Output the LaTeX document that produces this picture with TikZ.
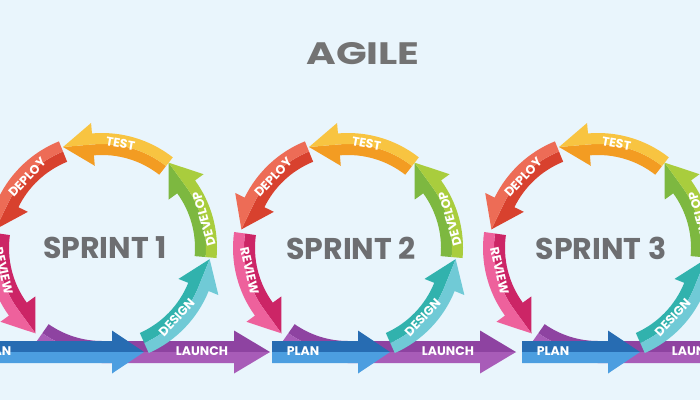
\documentclass[tikz,border=0pt]{standalone}
\usepackage{fontspec}
\setmainfont{Poppins}[BoldFont={Poppins Bold}]
\usetikzlibrary{calc}
\definecolor{bg}{HTML}{E9F5FC}
\definecolor{titlegray}{HTML}{737373}
\definecolor{sprintgray}{HTML}{6D6E71}
\definecolor{testL}{HTML}{F8C441}
\definecolor{testD}{HTML}{F39C22}
\definecolor{deployL}{HTML}{ED6C56}
\definecolor{deployD}{HTML}{D8412E}
\definecolor{reviewL}{HTML}{EE619C}
\definecolor{reviewD}{HTML}{CC2566}
\definecolor{developL}{HTML}{A9CD3D}
\definecolor{developD}{HTML}{7DB840}
\definecolor{designL}{HTML}{70CAD6}
\definecolor{designD}{HTML}{31B2AD}
\definecolor{planL}{HTML}{4C9EE0}
\definecolor{planD}{HTML}{276CB2}
\definecolor{launchL}{HTML}{A85CB8}
\definecolor{launchD}{HTML}{8E43A1}
% #1 tail angle, #2 head base angle, #3 light colour, #4 dark colour
\newcommand\ringarrow[4]{%
  \fill[#4] (#1:93) arc[start angle=#1, end angle=#2, radius=93] -- (#2:82.5)
    -- ({104*cos(#2)-30*sin(#2)},{104*sin(#2)+30*cos(#2)}) -- (#2:104)
    arc[start angle=#2, end angle=#1, radius=104] -- cycle;
  \fill[#3] (#1:104) arc[start angle=#1, end angle=#2, radius=104]
    -- ({104*cos(#2)-30*sin(#2)},{104*sin(#2)+30*cos(#2)}) -- (#2:125.5) -- (#2:115)
    arc[start angle=#2, end angle=#1, radius=115] -- cycle;
}
\newcommand\sprint[4]{% #1 centre x, #2 plan start (relative), #3 number, #4 plan label x (relative)
  \begin{scope}[shift={(#1,152)}]
    % launch: curved tail then straight
    \fill[launchD] (235:93) arc[start angle=235, end angle=270, radius=93]
      -- (132,-93) -- (132,-82.5) -- (168,-104) -- (132,-104) -- (0,-104)
      arc[start angle=270, end angle=235, radius=104] -- cycle;
    \fill[launchL] (235:104) arc[start angle=235, end angle=270, radius=104]
      -- (132,-104) -- (168,-104) -- (132,-125.5) -- (132,-115) -- (0,-115)
      arc[start angle=270, end angle=235, radius=115] -- cycle;
    % plan
    \fill[planD] (#2,-93) -- (10,-93) -- (10,-82.5) -- (42,-104) -- (#2,-104) -- cycle;
    \fill[planL] (#2,-104) -- (42,-104) -- (10,-125.5) -- (10,-115) -- (#2,-115) -- cycle;
    % ring
    \ringarrow{-66}{-22}{designL}{designD}
    \ringarrow{-5}{36}{developL}{developD}
    \ringarrow{52}{95}{testL}{testD}
    \ringarrow{112}{154}{deployL}{deployD}
    \ringarrow{172}{216}{reviewL}{reviewD}
    % labels
    \node[lbl, rotate=-10] (test#3) at (80:106) {TEST};
    \node[lbl, rotate=46.6] (deploy#3) at (136.6:103) {DEPLOY};
    \node[lbl, rotate=-77] (review#3) at (-167:101) {REVIEW};
    \node[lbl, rotate=106] (develop#3) at (16:106) {DEVELOP};
    \node[lbl, rotate=47] (design#3) at (-43:102) {DESIGN};
    \node[lbl] (plan#3) at (#4,-103) {PLAN};
    \node[lbl] (launch#3) at (100,-103) {LAUNCH};
    \node[sprintlbl] (sprint#3) at (3,0) {SPRINT #3};
  \end{scope}
}
\tikzset{
  lbl/.style={text=white, inner sep=0pt, font=\bfseries\fontsize{12.5}{13}\selectfont},
  sprintlbl/.style={text=sprintgray, inner sep=0pt, font=\bfseries\fontsize{30}{30}\selectfont},
}
\begin{document}
\begin{tikzpicture}[x=1pt,y=1pt]
  \useasboundingbox (0,0) rectangle (700,400);
  \clip (0,0) rectangle (700,400);
  \fill[bg] (0,0) rectangle (700,400);
  \node[text=titlegray, inner sep=0pt, xscale=1.3, font=\bfseries\fontsize{31}{31}\selectfont] (title) at (363,346) {AGILE};
  \sprint{102}{-150}{1}{-107}
  \sprint{348}{-76}{2}{-45}
  \sprint{598}{-76}{3}{-45}
\end{tikzpicture}
\end{document}
